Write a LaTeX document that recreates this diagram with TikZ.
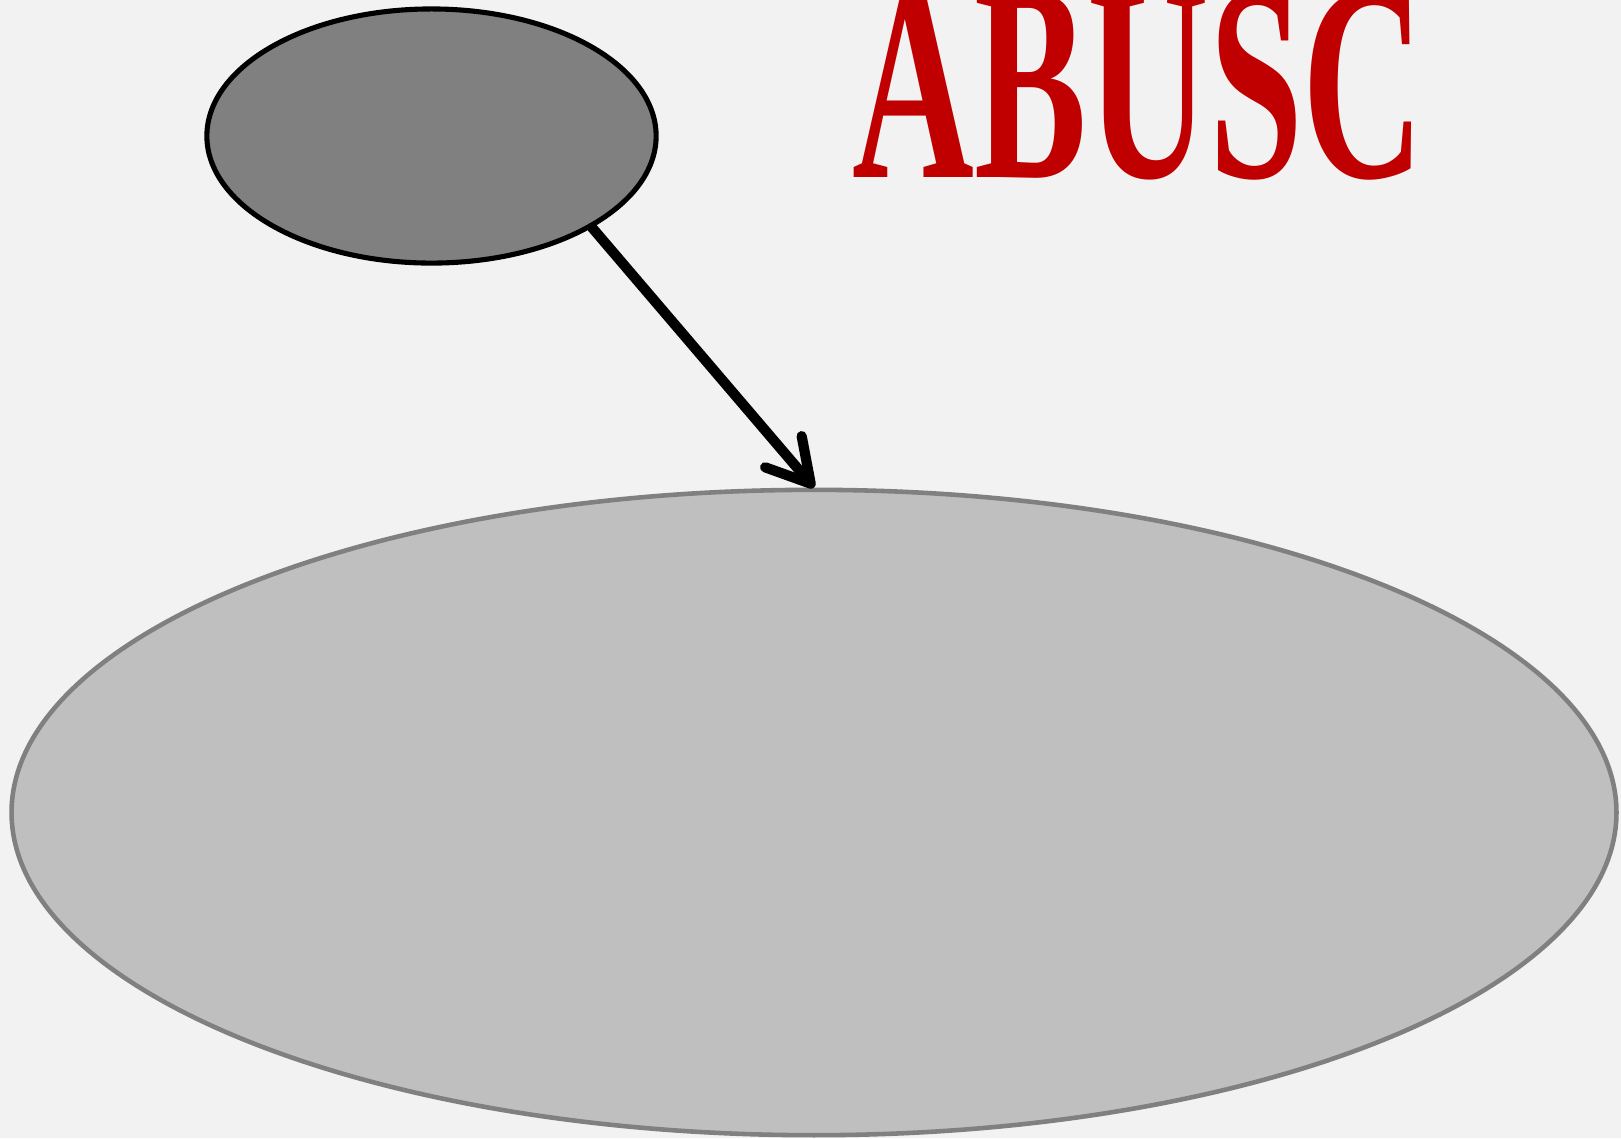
\documentclass[tikz,border=0pt]{standalone}
\usepackage{fontspec}
\usepackage{graphicx}
\usepackage{tikz}
\usetikzlibrary{arrows.meta,shapes.geometric}
\newfontfamily\titlefont{Liberation Serif}
\definecolor{paper}{RGB}{242,242,242}
\definecolor{slate}{RGB}{128,128,128}
\definecolor{silver}{RGB}{191,191,191}
\definecolor{brick}{RGB}{192,0,0}
\tikzset{
  >={Straight Barb[length=4.2mm,width=4.8mm,line cap=round,line join=round]},
  blob/.style={ellipse,inner sep=0pt,line width=1.45pt,draw=black,fill=slate},
  big blob/.style={blob,line width=1.3pt,draw=slate,fill=silver},
  link/.style={->,line width=2.9pt,draw=black,line cap=round},
  banner/.style={font=\titlefont\bfseries\fontsize{80}{82}\selectfont,
    text=brick,inner sep=0pt,anchor=base west},
}
\begin{document}
\begin{tikzpicture}[x=0.01cm,y=-0.01cm]
  \fill[paper] (0,0) rectangle (1621,1138);
  \useasboundingbox (0,0) rectangle (1621,1138);
  \node[blob,minimum width=4.49cm,minimum height=2.54cm] (top) at (431.5,136) {};
  \node[big blob,minimum width=16.04cm,minimum height=6.45cm] (base) at (814,812.5) {};
  \draw[link] (top.south east) -- (base.north);
  \node[banner] (word) at (852,177) {\scalebox{0.6}[1]{ABUSC}};
\end{tikzpicture}
\end{document}
